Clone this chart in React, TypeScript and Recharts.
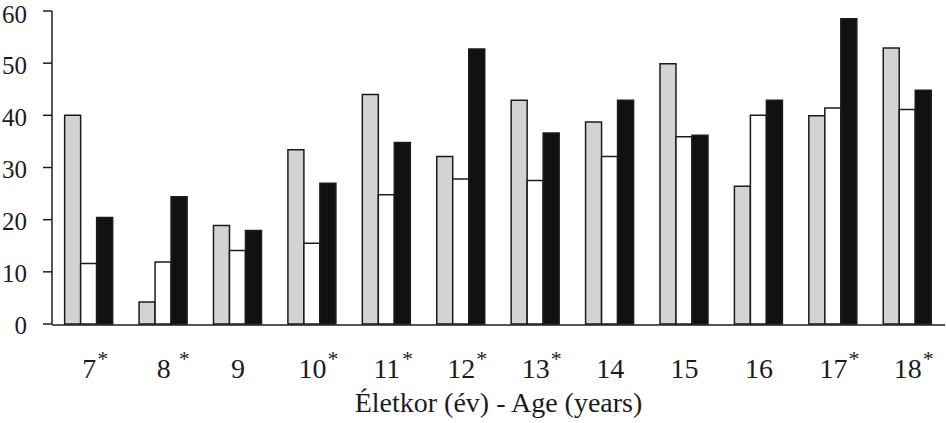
import { Bar, BarChart, Label, XAxis, YAxis } from "recharts"

// Age groups; "*" marks a significant difference (kept as printed, incl. the "8 *" gap).
const tickLabels = ["7*", "8 *", "9", "10*", "11*", "12*", "13*", "14", "15", "16", "17*", "18*"]

const grayValues = [40.0, 4.2, 18.9, 33.4, 44.0, 32.1, 42.9, 38.7, 49.9, 26.4, 39.9, 52.9]
const whiteValues = [11.6, 11.9, 14.1, 15.5, 24.8, 27.8, 27.5, 32.1, 35.9, 40.0, 41.4, 41.1]
const blackValues = [20.4, 24.4, 17.9, 27.0, 34.8, 52.7, 36.6, 42.9, 36.2, 42.9, 58.5, 44.8]

const yTicks = [0, 10, 20, 30, 40, 50, 60]
const xTitle = "Életkor (év) - Age (years)"

const font = '"Liberation Serif", "Times New Roman", serif'
const ink = "#1c1c1c"

const data = tickLabels.map((label, i) => ({
  label,
  gray: grayValues[i],
  white: whiteValues[i],
  black: blackValues[i],
}))

// band edges, used for the tick marks between the groups
const edgeTicks = [...tickLabels.map((_, i) => i), tickLabels.length]

function AgeTick({ x, y, payload }: { x: number; y: number; payload: { value: string } }) {
  const raw = String(payload.value)
  const age = raw.replace(/[ *]/g, "")
  const star = raw.includes("*")
  const gap = raw.includes(" ") ? 7 : 0
  const half = age.length * 7
  return (
    <g>
      <text x={x} y={y + 54} textAnchor="middle" fontSize={28} fontFamily={font} fill={ink}>
        {age}
      </text>
      {star && (
        <text x={x + half + gap + 1} y={y + 42} fontSize={22} fontFamily={font} fill={ink}>
          *
        </text>
      )}
    </g>
  )
}

// value labels sit a hair below their tick; the top one is kept inside the page
function ValueTick({ x, y, payload }: { x: number; y: number; payload: { value: number } }) {
  return (
    <text
      x={x}
      y={Math.max(y + 1.5, 14)}
      dy="0.355em"
      textAnchor="end"
      fontSize={25}
      fontFamily={font}
      fill={ink}
    >
      {payload.value}
    </text>
  )
}

export default function App() {
  return (
    <div style={{ position: "absolute", left: 0, top: 0, background: "#fff" }}>
      <BarChart
        width={946}
        height={423}
        data={data}
        margin={{ top: 11, right: 1, left: 0, bottom: 97 }}
        barCategoryGap="17%"
        barGap={0}
        style={{ fontFamily: font }}
      >
        <XAxis
          xAxisId="edges"
          type="number"
          domain={[0, tickLabels.length]}
          ticks={edgeTicks}
          height={1}
          tick={false}
          tickSize={9}
          axisLine={{ stroke: ink, strokeWidth: 1.5 }}
          tickLine={{ stroke: ink, strokeWidth: 1.5 }}
        />
        <XAxis
          dataKey="label"
          height={1}
          axisLine={false}
          tickLine={false}
          tickSize={0}
          tickMargin={0}
          interval={0}
          tick={AgeTick as any}
        >
          <Label
            value={xTitle}
            position="bottom"
            offset={67}
            style={{ fontSize: 28, fill: ink, fontFamily: font }}
          />
        </XAxis>
        <YAxis
          width={52}
          domain={[0, 60]}
          ticks={yTicks}
          interval={0}
          tickSize={9}
          tickMargin={16}
          axisLine={{ stroke: ink, strokeWidth: 1.5 }}
          tickLine={{ stroke: ink, strokeWidth: 1.5 }}
          tick={ValueTick as any}
        />
        <Bar dataKey="gray" fill="#d3d3d3" stroke={ink} strokeWidth={1.5} isAnimationActive={false} />
        <Bar dataKey="white" fill="#ffffff" stroke={ink} strokeWidth={1.5} isAnimationActive={false} />
        <Bar dataKey="black" fill="#111111" stroke={ink} strokeWidth={1.5} isAnimationActive={false} />
      </BarChart>
    </div>
  )
}
